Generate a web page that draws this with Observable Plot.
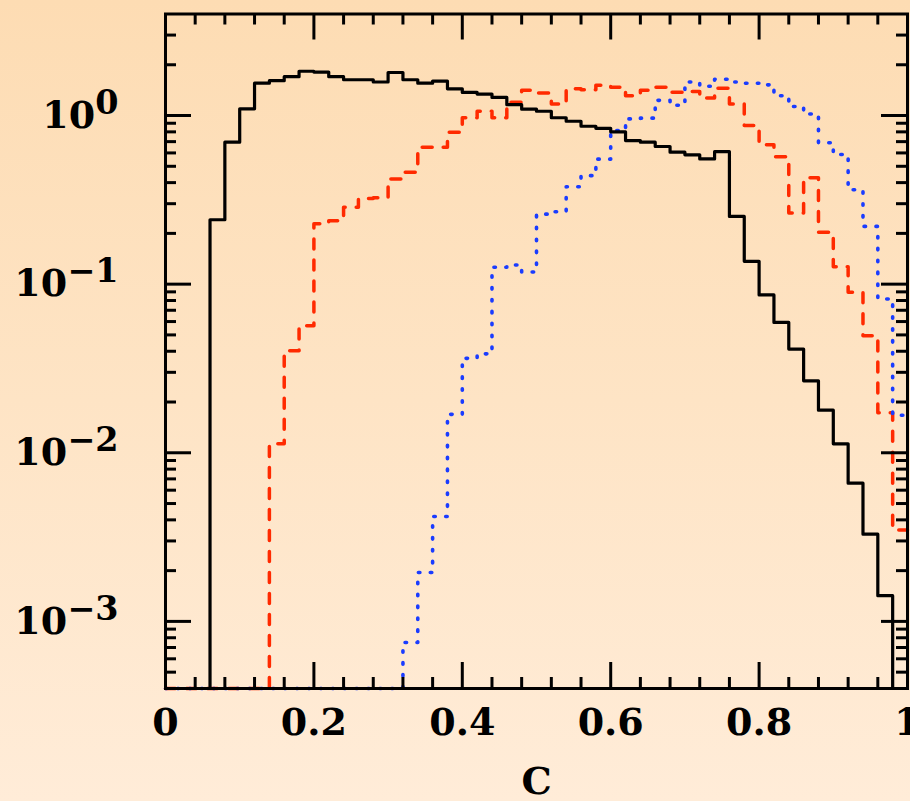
<!DOCTYPE html>
<html>
<head>
<meta charset="utf-8">
<script src="https://cdn.jsdelivr.net/npm/d3@7"></script>
<script src="https://cdn.jsdelivr.net/npm/@observablehq/plot@0.6"></script>
<style>
  html, body { margin: 0; padding: 0; }
  body {
    width: 910px; height: 801px; overflow: hidden;
    background: linear-gradient(to bottom, #fddcb3 0%, #fee4c5 50%, #ffecd8 100%);
  }
  #chart svg { display: block; }
</style>
</head>
<body>
<div id="chart"></div>
<script>
// Bin left edges (bin width 0.02)
const binStart = [0.00,0.02,0.04,0.06,0.08,0.10,0.12,0.14,0.16,0.18,
                  0.20,0.22,0.24,0.26,0.28,0.30,0.32,0.34,0.36,0.38,
                  0.40,0.42,0.44,0.46,0.48,0.50,0.52,0.54,0.56,0.58,
                  0.60,0.62,0.64,0.66,0.68,0.70,0.72,0.74,0.76,0.78,
                  0.80,0.82,0.84,0.86,0.88,0.90,0.92,0.94,0.96,0.98];
const binEnd = 1.0;

// Black solid histogram
const blackVals = [0,0,0,0.241,0.695,1.096,1.555,1.61,1.70,1.83,
                   1.81,1.70,1.63,1.63,1.58,1.80,1.63,1.555,1.60,1.44,
                   1.37,1.34,1.28,1.16,1.09,1.06,0.97,0.925,0.864,0.84,
                   0.80,0.71,0.695,0.655,0.606,0.585,0.553,0.61,0.252,0.1366,
                   0.0863,0.0593,0.0412,0.0267,0.0179,0.0113,0.0066,0.00329,0.00142,0];

// Red dashed histogram
const redVals = [0,0,0,0,0,0,0,0.0113,0.0403,0.0567,
                 0.228,0.238,0.286,0.322,0.325,0.421,0.461,0.649,0.649,0.796,
                 0.97,1.06,0.969,1.2,1.41,1.36,1.17,1.44,1.42,1.51,
                 1.47,1.31,1.41,1.47,1.375,1.39,1.27,1.45,1.17,0.872,
                 0.67,0.57,0.264,0.427,0.203,0.127,0.0894,0.0495,0.0173,0.00348];

// Blue dotted histogram
const blueVals = [0,0,0,0,0,0,0,0,0,0,
                  0,0,0,0,0,0,0.00075,0.00195,0.00419,0.0169,
                  0.0363,0.0386,0.126,0.13,0.118,0.26,0.269,0.378,0.44,0.551,
                  0.815,0.955,0.965,1.23,1.15,1.58,1.49,1.64,1.58,1.555,
                  1.52,1.31,1.13,1.02,0.69,0.587,0.363,0.22,0.0817,0.0167];

// Axis ticks and labels
const xMajor = [0, 0.2, 0.4, 0.6, 0.8, 1];
const xMajorLabels = ["0", "0.2", "0.4", "0.6", "0.8", "1"];
const xMinor = [0.04,0.08,0.12,0.16,0.24,0.28,0.32,0.36,0.44,0.48,0.52,0.56,
                0.64,0.68,0.72,0.76,0.84,0.88,0.92,0.96];
const yMajor = [0.001, 0.01, 0.1, 1];
const yMajorExponents = ["\u22123", "\u22122", "\u22121", "0"];
const yMinor = [0.0005,0.0006,0.0007,0.0008,0.0009,
                0.002,0.003,0.004,0.005,0.006,0.007,0.008,0.009,
                0.02,0.03,0.04,0.05,0.06,0.07,0.08,0.09,
                0.2,0.3,0.4,0.5,0.6,0.7,0.8,0.9,
                2,3];
const xLabel = "C";

const yMin = 4e-4, yMax = 4;
const W = 910, H = 801;
const mL = 165, mR = 3, mT = 13.5, mB = 113;
const FH = H - mT - mB, FW = W - mL - mR;
const font = "DejaVu Serif";

function series(vals) {
  const pts = binStart.map((x, i) => ({x, y: Math.max(vals[i], yMin)}));
  pts.push({x: binEnd, y: Math.max(vals[vals.length - 1], yMin)});
  return pts;
}

const xLabelMap = new Map(xMajor.map((d, i) => [d, xMajorLabels[i]]));
const yExpMap = new Map(yMajor.map((d, i) => [d, yMajorExponents[i]]));

const majorLen = 26, minorLen = 11;
const tickStyle = {stroke: "black", strokeWidth: 3};

const plot = Plot.plot({
  width: W, height: H,
  marginLeft: mL, marginRight: mR, marginTop: mT, marginBottom: mB,
  x: {domain: [0, 1]},
  y: {type: "log", domain: [yMin, yMax]},
  style: {background: "transparent", fontFamily: font, fontWeight: "bold", fontSize: "38px", color: "black", overflow: "visible"},
  marks: [
    // histograms
    Plot.line(series(redVals), {x: "x", y: "y", curve: "step-after", stroke: "#ff2a00", strokeWidth: 3.5,
      strokeDasharray: "10,11", strokeLinecap: "round"}),
    Plot.line(series(blueVals), {x: "x", y: "y", curve: "step-after", stroke: "#1a3cff", strokeWidth: 3.6,
      strokeDasharray: "1.5,10.4", strokeLinecap: "round"}),
    Plot.line(series(blackVals), {x: "x", y: "y", curve: "step-after", stroke: "black", strokeWidth: 3.2}),
    // inward ticks: bottom/top
    Plot.ruleX(xMajor, {x: d => d, insetTop: FH - majorLen, ...tickStyle}),
    Plot.ruleX(xMajor, {x: d => d, insetBottom: FH - majorLen, ...tickStyle}),
    Plot.ruleX(xMinor, {x: d => d, insetTop: FH - minorLen, ...tickStyle}),
    Plot.ruleX(xMinor, {x: d => d, insetBottom: FH - minorLen, ...tickStyle}),
    // inward ticks: left/right
    Plot.ruleY(yMajor, {y: d => d, insetRight: FW - majorLen, ...tickStyle}),
    Plot.ruleY(yMajor, {y: d => d, insetLeft: FW - majorLen, ...tickStyle}),
    Plot.ruleY(yMinor, {y: d => d, insetRight: FW - minorLen, ...tickStyle}),
    Plot.ruleY(yMinor, {y: d => d, insetLeft: FW - minorLen, ...tickStyle}),
    // axis labels
    Plot.axisX(xMajor, {anchor: "bottom", tickSize: 0, tickPadding: 20, fontSize: 38,
      tickFormat: d => xLabelMap.get(d), label: null, fontWeight: "bold"}),
    Plot.axisY(yMajor, {anchor: "left", tickSize: 0, tickPadding: 47, fontSize: 38,
      tickFormat: d => yExpMap.get(d), label: null, fontWeight: "bold"}),
    Plot.text([xLabel], {frameAnchor: "bottom", dy: 93, lineAnchor: "middle", fontSize: 38,
      fontWeight: "bold", fill: "black"}),
    Plot.frame({stroke: "black", strokeWidth: 3})
  ]
});

// Render y tick labels as 10 with a superscript exponent
plot.querySelectorAll('g[aria-label="y-axis tick label"] text').forEach(t => {
  const exp = t.textContent;
  while (t.firstChild) t.removeChild(t.firstChild);
  t.appendChild(document.createTextNode("10"));
  const ts = document.createElementNS("http://www.w3.org/2000/svg", "tspan");
  ts.setAttribute("font-size", "0.88em");
  ts.setAttribute("dy", "-0.42em");
  ts.textContent = exp;
  t.appendChild(ts);
});

document.getElementById("chart").appendChild(plot);
</script>
</body>
</html>
